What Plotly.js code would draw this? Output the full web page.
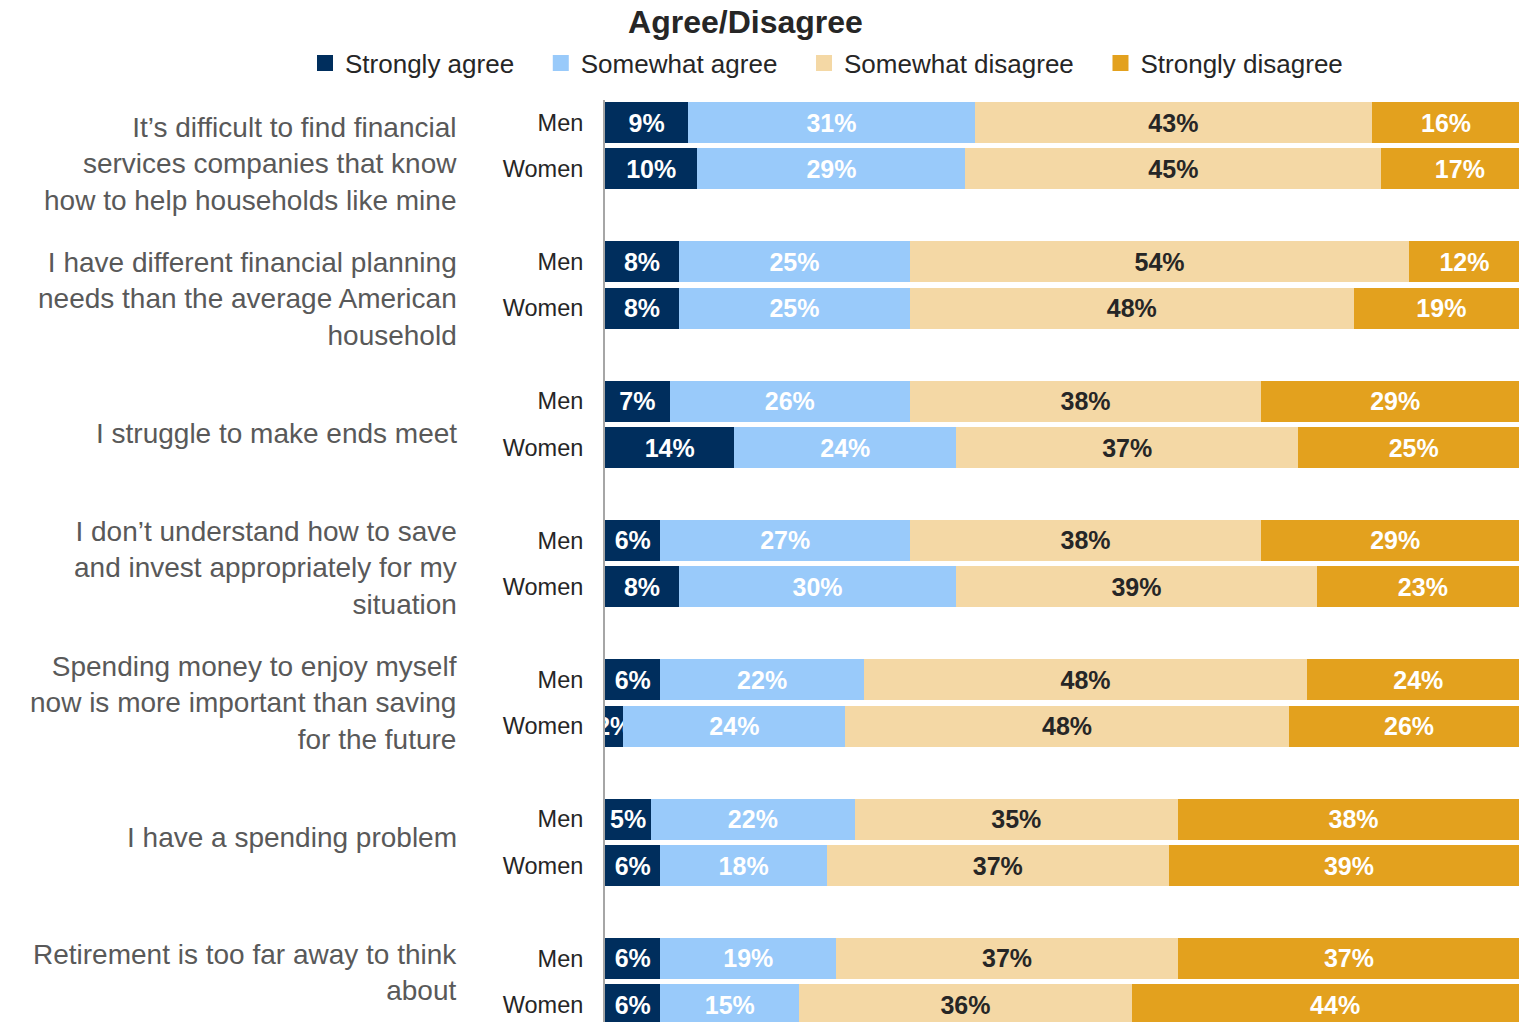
<!DOCTYPE html>
<html>
<head>
<meta charset="utf-8">
<script src="https://cdn.plot.ly/plotly-3.0.1.min.js"></script>
<style>html,body{margin:0;padding:0;background:#fff;}#chart{width:1519px;height:1022px;}</style>
</head>
<body>
<div id="chart"></div>
<script>
const statements = [
  "It’s difficult to find financial<br>services companies that know<br>how to help households like mine",
  "I have different financial planning<br>needs than the average American<br>household",
  "I struggle to make ends meet",
  "I don’t understand how to save<br>and invest appropriately for my<br>situation",
  "Spending money to enjoy myself<br>now is more important than saving<br>for the future",
  "I have a spending problem",
  "Retirement is too far away to think<br>about"
];
const genders = ["Men", "Women"];
const seriesNames = ["Strongly agree", "Somewhat agree", "Somewhat disagree", "Strongly disagree"];
// rows: statement 1 Men, statement 1 Women, statement 2 Men, ...
const stronglyAgree    = [9, 10, 8, 8, 7, 14, 6, 8, 6, 2, 5, 6, 6, 6];
const somewhatAgree    = [31, 29, 25, 25, 26, 24, 27, 30, 22, 24, 22, 18, 19, 15];
const somewhatDisagree = [43, 45, 54, 48, 38, 37, 38, 39, 48, 48, 35, 37, 37, 36];
const stronglyDisagree = [16, 17, 12, 19, 29, 25, 29, 23, 24, 26, 38, 39, 37, 44];

const colors = ["#002E5D", "#99CAFA", "#F4D8A5", "#E3A11E"];
const textColors = ["#FFFFFF", "#FFFFFF", "#262626", "#FFFFFF"];
const seriesValues = [stronglyAgree, somewhatAgree, somewhatDisagree, stronglyDisagree];

const yPos = [], yText = [];
statements.forEach((s, g) => {
  genders.forEach((gd, k) => { yPos.push(3 * g + k); yText.push(gd); });
});

const FONT = "Liberation Sans, Arial, Helvetica, sans-serif";

const traces = seriesValues.map((vals, si) => ({
  type: "bar",
  orientation: "h",
  name: seriesNames[si],
  x: vals,
  y: yPos,
  width: 0.883,
  marker: { color: colors[si], line: { width: 0 } },
  text: vals.map(v => v + "%"),
  textposition: "inside",
  insidetextanchor: "middle",
  constraintext: "none",
  textangle: 0,
  textfont: { family: FONT, size: 25, color: textColors[si], weight: "bold" },
  hoverinfo: "skip",
  showlegend: false
}));

// legend entries with larger square markers
const legendPad = "\u00a0\u00a0\u00a0";
seriesNames.forEach((n, si) => {
  traces.push({
    type: "scatter", mode: "markers", name: n + (si < seriesNames.length - 1 ? legendPad : ""),
    x: [null], y: [null],
    marker: { symbol: "square", size: 17, color: colors[si] },
    showlegend: true, hoverinfo: "skip"
  });
});

const plotTop = 100, plotH = 922;
const annotations = statements.map((s, g) => {
  const px = 164 + g * 134.75;
  return {
    text: s, xref: "paper", yref: "paper",
    x: (459 - 605) / 914, y: 1 - (px - plotTop) / plotH,
    xanchor: "right", yanchor: "middle", align: "right",
    showarrow: false,
    font: { family: FONT, size: 28, color: "#595959" }
  };
});

const layout = {
  width: 1519, height: 1022,
  margin: { l: 605, r: 0, t: 100, b: 0, pad: 0 },
  paper_bgcolor: "#fff", plot_bgcolor: "#fff",
  barmode: "stack",
  bargap: 0,
  font: { family: FONT, color: "#262626" },
  title: {
    text: "<b>Agree/Disagree</b>",
    x: 745.5 / 1519, xanchor: "center", xref: "container",
    y: 1 - 22 / 1022, yanchor: "middle", yref: "container",
    font: { family: FONT, size: 32, color: "#262626" }
  },
  showlegend: true,
  legend: {
    orientation: "h",
    x: (305 - 605) / 914, xanchor: "left",
    y: 1 + (100 - 63) / plotH, yanchor: "middle",
    font: { family: FONT, size: 26, color: "#262626" },
    bgcolor: "rgba(0,0,0,0)",
    itemclick: false, itemdoubleclick: false,
    traceorder: "normal"
  },
  xaxis: {
    range: [0, 98.9], showgrid: false, zeroline: false,
    showticklabels: false, showline: false, ticks: "", fixedrange: true
  },
  yaxis: {
    range: [19.37, -0.4845], autorange: false,
    tickmode: "array", tickvals: yPos, ticktext: yText,
    tickfont: { family: FONT, size: 23.5, color: "#262626" },
    ticks: "", ticklabelstandoff: 15,
    showgrid: false, zeroline: false,
    showline: true, linecolor: "#A6A6A6", linewidth: 2,
    fixedrange: true
  },
  annotations: annotations
};

Plotly.newPlot("chart", traces, layout, { displayModeBar: false, staticPlot: true });
</script>
</body>
</html>
